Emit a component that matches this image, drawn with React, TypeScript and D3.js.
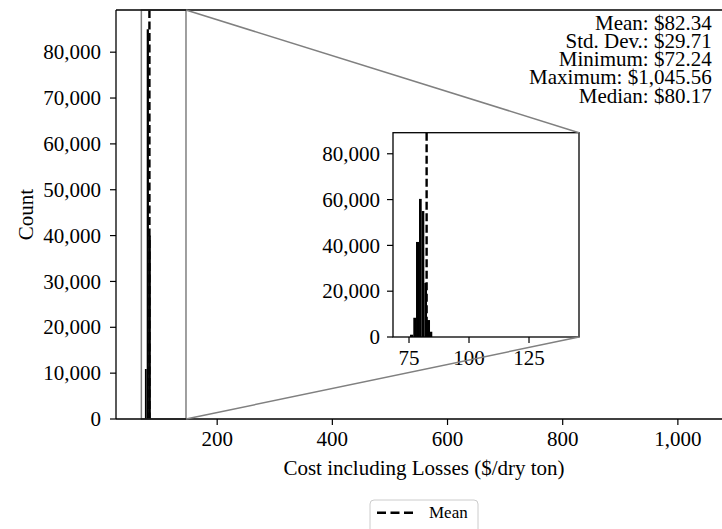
import React from "react";
import * as d3 from "d3";

// ---- data ----
const mainBinEdges = [74.5, 77.6, 81.5, 84.8];
const mainCounts = [10900, 85000, 40000];

const insetBinEdges = [75.42, 76.79, 77.92, 79.17, 80.29, 81.38, 82.5, 83.75, 84.7];
const insetCounts = [1000, 8400, 41500, 60300, 55000, 23600, 7400, 2300];

const meanValue = 82.34;
const statsLines = [
  "Mean: $82.34",
  "Std. Dev.: $29.71",
  "Minimum: $72.24",
  "Maximum: $1,045.56",
  "Median: $80.17",
];
const mainXTicks = [200, 400, 600, 800, 1000];
const mainYTicks = [0, 10000, 20000, 30000, 40000, 50000, 60000, 70000, 80000];
const insetXTicks = [75, 100, 125];
const insetYTicks = [0, 20000, 40000, 60000, 80000];
const xDomain = [24.3, 1094];
const yDomain = [0, 89200];
const insetXDomain = [68.33, 145.83];

const FONT = "'Liberation Serif', 'Times New Roman', serif";
const fmt = d3.format(",");

export default function App() {
  const W = 722, H = 529;
  const m = { left: 116, right: 732, top: 10, bottom: 419 };
  const ins = { left: 393, right: 579, top: 132.7, bottom: 337 };

  const x = d3.scaleLinear().domain(xDomain).range([m.left, m.right]);
  const y = d3.scaleLinear().domain(yDomain).range([m.bottom, m.top]);
  const xi = d3.scaleLinear().domain(insetXDomain).range([ins.left, ins.right]);
  const yi = d3.scaleLinear().domain(yDomain).range([ins.bottom, ins.top]);

  const rx0 = x(insetXDomain[0]);
  const rx1 = x(insetXDomain[1]);

  const dash = "8,3.5";
  const lw = 2.4;

  return (
    <svg width={W} height={H} style={{ position: "absolute", left: 0, top: 0, background: "#fff" }} fontFamily={FONT}>
      <defs>
        <clipPath id="mainClip">
          <rect x={m.left} y={m.top} width={m.right - m.left} height={m.bottom - m.top} />
        </clipPath>
        <clipPath id="insClip">
          <rect x={ins.left} y={ins.top} width={ins.right - ins.left} height={ins.bottom - ins.top} />
        </clipPath>
      </defs>
      <rect x={0} y={0} width={W} height={H} fill="#fff" />

      {/* main bars */}
      <g clipPath="url(#mainClip)">
        {mainCounts.map((c, i) => (
          <rect key={i} x={x(mainBinEdges[i])} y={y(c)} width={x(mainBinEdges[i + 1]) - x(mainBinEdges[i])} height={y(0) - y(c)} fill="#000" />
        ))}
        <line x1={x(meanValue)} x2={x(meanValue)} y1={m.top} y2={m.bottom} stroke="#000" strokeWidth={lw} strokeDasharray={dash} />
      </g>

      {/* zoom rectangle */}
      <rect x={rx0} y={m.top} width={rx1 - rx0} height={m.bottom - m.top} fill="none" stroke="#808080" strokeWidth={1.5} />

      {/* main spines */}
      <line x1={m.left} x2={m.right} y1={m.top} y2={m.top} stroke="#000" strokeWidth={1.3} />
      <line x1={m.left} x2={m.right} y1={m.bottom} y2={m.bottom} stroke="#000" strokeWidth={1.3} />
      <line x1={m.left} x2={m.left} y1={m.top} y2={m.bottom} stroke="#000" strokeWidth={1.3} />
      <line x1={m.right} x2={m.right} y1={m.top} y2={m.bottom} stroke="#000" strokeWidth={1.3} />

      {/* main ticks */}
      {mainXTicks.map((t) => (
        <g key={t}>
          <line x1={x(t)} x2={x(t)} y1={m.bottom} y2={m.bottom + 6} stroke="#000" strokeWidth={1.2} />
          <text x={x(t)} y={446} textAnchor="middle" fontSize={21} fill="#000">{fmt(t)}</text>
        </g>
      ))}
      {mainYTicks.map((t) => (
        <g key={t}>
          <line x1={m.left - 6} x2={m.left} y1={y(t)} y2={y(t)} stroke="#000" strokeWidth={1.2} />
          <text x={m.left - 15} y={y(t)} dy="0.34em" textAnchor="end" fontSize={21} fill="#000">{fmt(t)}</text>
        </g>
      ))}

      <text x={(m.left + m.right) / 2} y={475} textAnchor="middle" fontSize={21} fill="#000">Cost including Losses ($/dry ton)</text>
      <text transform={`translate(33,${(m.top + m.bottom) / 2}) rotate(-90)`} textAnchor="middle" fontSize={21} fill="#000">Count</text>

      {/* stats */}
      {statsLines.map((s, i) => (
        <text key={i} x={711.7} y={29.5 + i * 18.3} textAnchor="end" fontSize={21} fill="#000">{s}</text>
      ))}

      {/* inset */}
      <rect x={ins.left} y={ins.top} width={ins.right - ins.left} height={ins.bottom - ins.top} fill="#fff" />
      <g clipPath="url(#insClip)">
        {insetCounts.map((c, i) => (
          <rect key={i} x={xi(insetBinEdges[i])} y={yi(c)} width={xi(insetBinEdges[i + 1]) - xi(insetBinEdges[i])} height={yi(0) - yi(c)} fill="#000" />
        ))}
        <line x1={xi(meanValue)} x2={xi(meanValue)} y1={ins.top} y2={ins.bottom} stroke="#000" strokeWidth={lw} strokeDasharray={dash} />
      </g>
      <rect x={ins.left} y={ins.top} width={ins.right - ins.left} height={ins.bottom - ins.top} fill="none" stroke="#000" strokeWidth={1.3} />
      {insetXTicks.map((t) => (
        <g key={t}>
          <line x1={xi(t)} x2={xi(t)} y1={ins.bottom} y2={ins.bottom + 6} stroke="#000" strokeWidth={1.2} />
          <text x={xi(t)} y={365} textAnchor="middle" fontSize={21} fill="#000">{fmt(t)}</text>
        </g>
      ))}
      {insetYTicks.map((t) => (
        <g key={t}>
          <line x1={ins.left - 6} x2={ins.left} y1={yi(t)} y2={yi(t)} stroke="#000" strokeWidth={1.2} />
          <text x={ins.left - 13} y={yi(t)} dy="0.34em" textAnchor="end" fontSize={21} fill="#000">{fmt(t)}</text>
        </g>
      ))}

      {/* connectors */}
      <line x1={rx1} y1={m.top} x2={ins.right} y2={ins.top} stroke="#808080" strokeWidth={1.5} />
      <line x1={rx1} y1={m.bottom} x2={ins.right} y2={ins.bottom} stroke="#808080" strokeWidth={1.5} />

      {/* legend */}
      <rect x={370} y={500} width={108} height={45} rx={4} fill="#fff" stroke="#cccccc" strokeWidth={1} />
      <line x1={377} x2={414} y1={512.7} y2={512.7} stroke="#000" strokeWidth={lw} strokeDasharray="9,4.5" />
      <text x={429} y={518} fontSize={17} fill="#000">Mean</text>
    </svg>
  );
}
